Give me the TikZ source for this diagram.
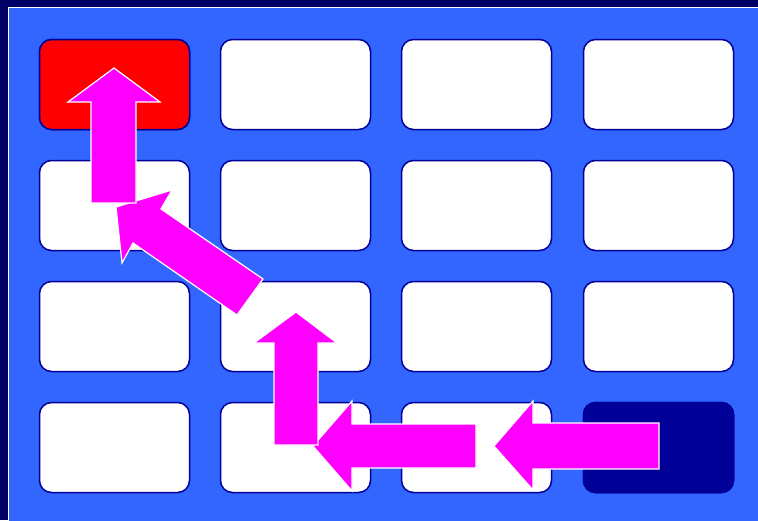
\documentclass[tikz,border=0pt]{standalone}
\definecolor{navybg}{HTML}{000066}
\definecolor{bluebg}{HTML}{3366FF}
\definecolor{boxline}{HTML}{000099}
\definecolor{darkbox}{HTML}{000099}
\definecolor{magent}{HTML}{FF00FF}
\begin{document}
\begin{tikzpicture}[x=1pt,y=-1pt,
  cell/.style={draw=boxline, line width=1.5pt, rounded corners=12pt, minimum width=150pt, minimum height=90pt, fill=white, inner sep=0pt},
  blockarrow/.style={fill=magent, draw=white, line width=1.2pt, line join=miter}]
\useasboundingbox (0,0) rectangle (758,520);
\fill[navybg] (0,0) rectangle (758,520);
\draw[white, fill=bluebg, line width=1pt] (8,7) rectangle (772,534);
\foreach \c/\x in {1/114.5,2/295.5,3/476.5,4/658.5}{
  \foreach \r/\y in {1/84.5,2/205.5,3/326.5,4/447.5}{
    \node[cell] (b\r\c) at (\x,\y) {};
  }
}
\node[cell, fill=red] (start) at (b11) {};
\node[cell, fill=darkbox] (goal) at (b44) {};
% arrows
\draw[blockarrow] (659,423) -- (533,423) -- (533,401) -- (494,446) -- (533,490) -- (533,469) -- (659,469) -- cycle;
\draw[blockarrow] (476,424) -- (352,424) -- (352,401) -- (313,446) -- (352,491) -- (352,468) -- (476,468) -- cycle;
\draw[blockarrow] (274,445) -- (274,343) -- (254,343) -- (296,312) -- (337,343) -- (318,343) -- (318,445) -- cycle;
\draw[blockarrow] (263,279) -- (161,209) -- (172,190) -- (116,207) -- (122,263) -- (133,243) -- (237,315) -- cycle;
\draw[blockarrow] (91,203) -- (91,102) -- (68,102) -- (114,68) -- (160,102) -- (136,102) -- (136,203) -- cycle;
\end{tikzpicture}
\end{document}
